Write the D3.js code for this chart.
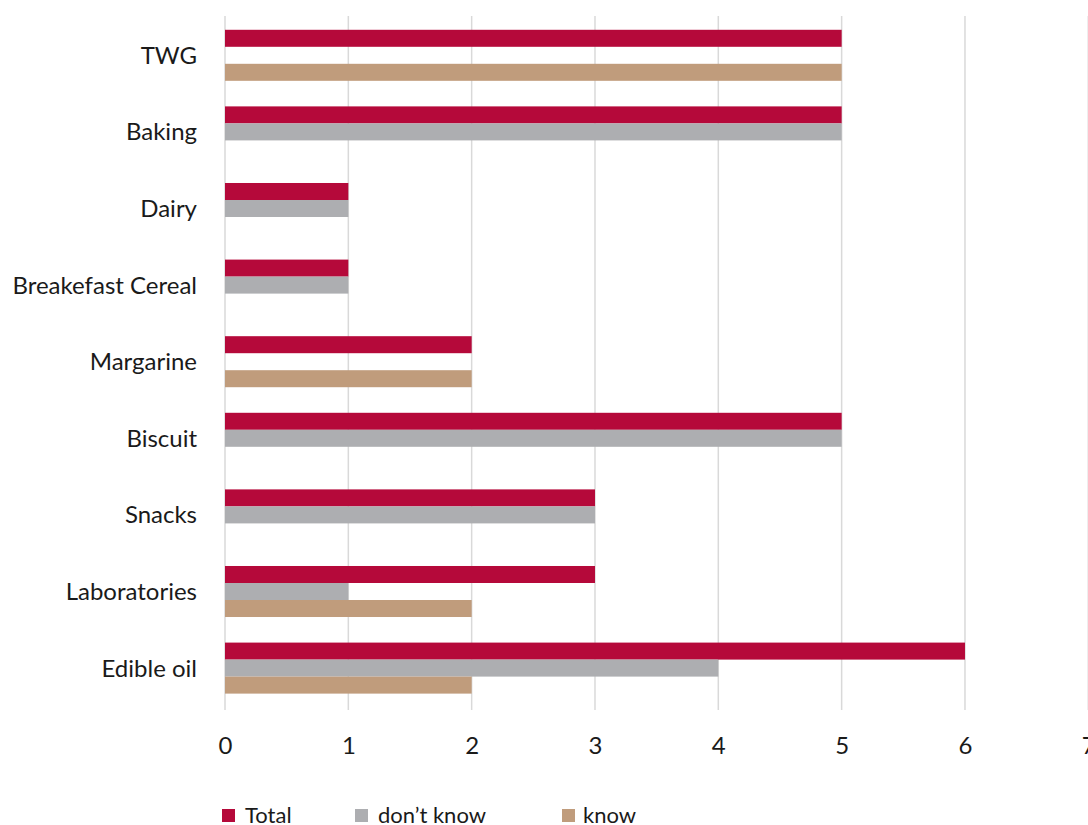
<!DOCTYPE html>
<html>
<head>
<meta charset="utf-8">
<script src="https://cdn.jsdelivr.net/npm/d3@7"></script>
<style>
  html, body { margin: 0; padding: 0; background: #fff; }
  svg text { font-family: Lato, "Noto Sans", sans-serif; fill: #1a1a1a; }
</style>
</head>
<body>
<svg id="chart" width="1088" height="825"></svg>
<script>
// data
var categories = ["TWG", "Baking", "Dairy", "Breakefast Cereal", "Margarine",
                  "Biscuit", "Snacks", "Laboratories", "Edible oil"];
var seriesNames = ["Total", "don\u2019t know", "know"];
var totalValues = [5, 5, 1, 1, 2, 5, 3, 3, 6];
var dontKnowValues = [0, 5, 1, 1, 0, 5, 3, 1, 4];
var knowValues = [5, 0, 0, 0, 2, 0, 0, 2, 2];
var xTicks = [0, 1, 2, 3, 4, 5, 6, 7];
var colors = ["#B5093A", "#ADAEB1", "#C09C7C"];

var seriesValues = [totalValues, dontKnowValues, knowValues];

var svg = d3.select("#chart");
var margin = {left: 225, top: 17, bottom: 706.4};

var x = d3.scaleLinear().domain([0, 7]).range([margin.left, margin.left + 7 * 123.33]);
var y = d3.scaleBand().domain(categories).range([margin.top, margin.bottom])
    .paddingInner(0.334).paddingOuter(0.167);
var ySub = d3.scaleBand().domain(d3.range(seriesNames.length)).range([0, y.bandwidth()]);

// grid lines
svg.append("g").selectAll("line").data(xTicks).enter().append("line")
    .attr("x1", d => x(d)).attr("x2", d => x(d))
    .attr("y1", 16).attr("y2", 710)
    .attr("stroke", "#d9d9d9").attr("stroke-width", 1.5);

// bars
var rows = [];
categories.forEach(function (c, i) {
    seriesValues.forEach(function (vals, s) {
        if (vals[i] > 0) rows.push({cat: c, s: s, v: vals[i]});
    });
});
svg.append("g").selectAll("rect").data(rows).enter().append("rect")
    .attr("x", x(0))
    .attr("y", d => y(d.cat) + ySub(d.s))
    .attr("width", d => x(d.v) - x(0))
    .attr("height", ySub.bandwidth())
    .attr("fill", d => colors[d.s]);

// x tick labels
var xAxis = svg.append("g").attr("transform", "translate(0,746)")
    .call(d3.axisBottom(x).tickValues(xTicks).tickFormat(d3.format("d")).tickSize(0).tickPadding(0));
xAxis.select(".domain").remove();
xAxis.selectAll("text").attr("font-size", 24).attr("dy", "0.35em")
    .style("font-family", "Lato, 'Noto Sans', sans-serif").attr("fill", "#1a1a1a");

// category labels
var yAxis = svg.append("g").attr("transform", "translate(197,0)")
    .call(d3.axisLeft(y).tickSize(0).tickPadding(0));
yAxis.select(".domain").remove();
yAxis.selectAll("text").attr("font-size", 24).attr("dy", "0.35em")
    .style("font-family", "Lato, 'Noto Sans', sans-serif").attr("fill", "#1a1a1a");

// legend
var legendX = [222, 355, 562];
var legend = svg.append("g").selectAll("g").data(seriesNames).enter().append("g")
    .attr("transform", (d, i) => "translate(" + legendX[i] + ",809)");
legend.append("rect").attr("width", 13).attr("height", 13).attr("fill", (d, i) => colors[i]);
legend.append("text").attr("x", (d, i) => i === 2 ? 21 : 23).attr("y", 6).attr("dy", "0.35em")
    .attr("font-size", 22).text(d => d);
</script>
</body>
</html>
